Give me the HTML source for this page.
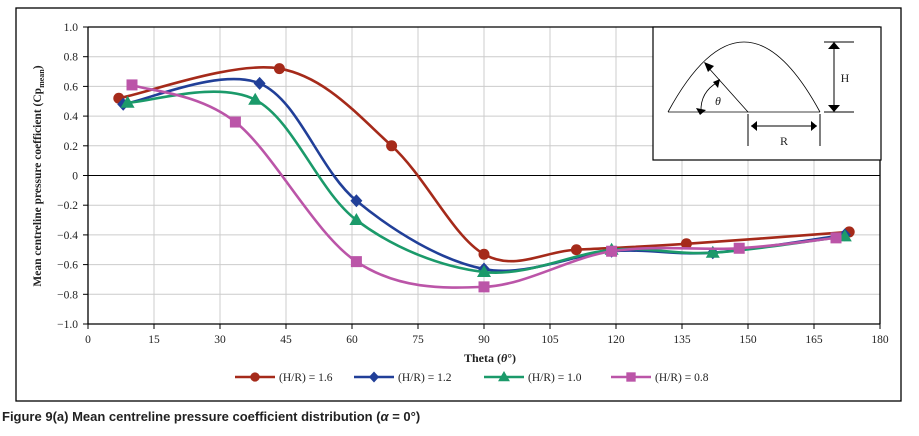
<!DOCTYPE html>
<html><head><meta charset="utf-8"><style>
body{margin:0;background:#fff;width:919px;height:436px;overflow:hidden}
svg{display:block}
text{font-family:"Liberation Serif",serif;fill:#222}
</style></head><body>
<svg id="chart" width="919" height="436">
<rect x="16" y="8" width="885" height="393" fill="none" stroke="#000" stroke-width="1.3"/>
<g id="grid"></g>
<g id="axes"></g>
<g id="series"></g>
<g>
<rect x="653" y="27" width="228" height="133" fill="#fff" stroke="#000" stroke-width="1.2"/>
<path d="M668,112 Q744,-28 820,112" fill="none" stroke="#000" stroke-width="0.8"/>
<line x1="668" y1="112" x2="820" y2="112" stroke="#000" stroke-width="0.8"/>
<line x1="748" y1="112" x2="706" y2="65" stroke="#000" stroke-width="0.8"/>
<polygon points="704,62 714,66 708,72" fill="#000"/>
<path d="M701,112 Q700,92 718,82" fill="none" stroke="#000" stroke-width="0.8"/>
<polygon points="720,79 718,88 713,82" fill="#000"/>
<polygon points="696,108 706,110 700,115" fill="#000"/>
<text x="715" y="105" font-size="12" font-style="italic">θ</text>
<line x1="824" y1="42" x2="854" y2="42" stroke="#000"/>
<line x1="824" y1="112" x2="854" y2="112" stroke="#000"/>
<line x1="834" y1="46" x2="834" y2="108" stroke="#000"/>
<polygon points="828,49 834,42 840,49" fill="#000"/>
<polygon points="828,105 834,112 840,105" fill="#000"/>
<text x="845" y="82" font-size="12" text-anchor="middle">H</text>
<line x1="748" y1="114" x2="748" y2="146" stroke="#000"/>
<line x1="820" y1="114" x2="820" y2="146" stroke="#000"/>
<line x1="751" y1="126" x2="817" y2="126" stroke="#000"/>
<polygon points="751,126 757,121 757,131" fill="#000"/>
<polygon points="817,126 811,121 811,131" fill="#000"/>
<text x="784" y="145" font-size="12" text-anchor="middle">R</text>
</g>
<text x="-176" y="41" transform="rotate(-90)" font-size="11.5" font-weight="bold" text-anchor="middle">Mean centreline pressure coefficient (Cp<tspan font-size="8" dy="3">mean</tspan><tspan dy="-3">)</tspan></text>
<text x="490" y="362" font-size="12" font-weight="bold" text-anchor="middle">Theta (<tspan font-style="italic">θ</tspan>°)</text>
<g id="legend"></g>
<text x="2" y="421" font-size="13" font-weight="bold" style="font-family:'Liberation Sans Narrow','Liberation Sans',sans-serif">Figure 9(a) Mean centreline pressure coefficient distribution (<tspan font-style="italic">α</tspan> = 0°)</text>
</svg>
<script>
const xTicks=[0,15,30,45,60,75,90,105,120,135,150,165,180];
const yTicks=[1.0,0.8,0.6,0.4,0.2,0,-0.2,-0.4,-0.6,-0.8,-1.0];
const seriesNames=["(H/R) = 1.6","(H/R) = 1.2","(H/R) = 1.0","(H/R) = 0.8"];
const theta16=[7,43.5,69,90,111,136,173];
const cp16=[0.52,0.72,0.20,-0.53,-0.50,-0.46,-0.38];
const theta12=[8,39,61,90,119,142,172];
const cp12=[0.48,0.62,-0.17,-0.63,-0.51,-0.52,-0.40];
const theta10=[9,38,61,90,119,142,172];
const cp10=[0.49,0.51,-0.30,-0.65,-0.50,-0.52,-0.41];
const theta08=[10,33.5,61,90,119,148,170];
const cp08=[0.61,0.36,-0.58,-0.75,-0.51,-0.49,-0.42];

const NS="http://www.w3.org/2000/svg";
const X=v=>88+v/180*792, Y=v=>175.5-v*148.5;
function mk(tag,attrs,parent){const e=document.createElementNS(NS,tag);for(const k in attrs)e.setAttribute(k,attrs[k]);parent.appendChild(e);return e;}
const grid=document.getElementById('grid'),axes=document.getElementById('axes'),ser=document.getElementById('series'),leg=document.getElementById('legend');
xTicks.forEach(t=>{
 if(t>0){const l=mk('line',{x1:X(t),x2:X(t),y1:Y(1),y2:Y(-1),stroke:'#ccc','stroke-width':1},grid);
 
 }
 mk('line',{x1:X(t),x2:X(t),y1:Y(-1),y2:Y(-1)+5,stroke:'#000'},axes);
 const tx=mk('text',{x:X(t),y:343,'font-size':11.5,'text-anchor':'middle'},axes);tx.textContent=t;
 
 
});
yTicks.forEach(t=>{
 if(t!==-1){const l=mk('line',{x1:X(0),x2:X(180),y1:Y(t),y2:Y(t),stroke:t===0?'#000':'#ccc','stroke-width':1},grid);
 
 }
 mk('line',{x1:X(0)-5,x2:X(0),y1:Y(t),y2:Y(t),stroke:'#000'},axes);
 const tx=mk('text',{x:X(0)-10,y:Y(t)+4,'font-size':11.5,'text-anchor':'end'},axes);
 tx.textContent=t===0?'0':(t<0?'\u2212':'')+Math.abs(t).toFixed(1);
 
 
});
mk('line',{x1:X(0),x2:X(0),y1:Y(1),y2:Y(-1),stroke:'#000','stroke-width':1.3},axes);
mk('line',{x1:X(0),x2:X(180),y1:Y(-1),y2:Y(-1),stroke:'#000','stroke-width':1.3},axes);
mk('line',{x1:X(0),x2:X(180),y1:Y(1),y2:Y(1),stroke:'#000','stroke-width':1.3},axes);
mk('line',{x1:X(180),x2:X(180),y1:Y(1),y2:Y(-1),stroke:'#000','stroke-width':1.3},axes);

function smooth(xs,ys){const p=xs.map((x,i)=>[X(x),Y(ys[i])]);let d='M'+p[0].join(',');
 for(let i=0;i<p.length-1;i++){const p0=p[i-1]||p[i],p1=p[i],p2=p[i+1],p3=p[i+2]||p2;
 const c1=[p1[0]+(p2[0]-p0[0])/6,p1[1]+(p2[1]-p0[1])/6],c2=[p2[0]-(p3[0]-p1[0])/6,p2[1]-(p3[1]-p1[1])/6];
 d+=' C'+c1.join(',')+' '+c2.join(',')+' '+p2.join(',');}return d;}
function marker(type,x,y,c,parent){
 if(type==='circle')return mk('circle',{cx:x,cy:y,r:5.5,fill:c},parent);
 if(type==='diamond')return mk('polygon',{points:`${x},${y-6.5} ${x+6},${y} ${x},${y+6.5} ${x-6},${y}`,fill:c},parent);
 if(type==='triangle')return mk('polygon',{points:`${x},${y-7} ${x+7},${y+5} ${x-7},${y+5}`,fill:c},parent);
 return mk('rect',{x:x-5.5,y:y-5.5,width:11,height:11,fill:c},parent);}
const defs=[[theta16,cp16,'#a52a1a','circle','series-hr-1-6'],[theta12,cp12,'#213f98','diamond','series-hr-1-2'],[theta10,cp10,'#1b9a6a','triangle','series-hr-1-0'],[theta08,cp08,'#bb55a8','square','series-hr-0-8']];
defs.forEach(([xs,ys,c,m,name],si)=>{
 const g=mk('g',{},ser);
 
 
 const p=mk('path',{d:smooth(xs,ys),fill:'none',stroke:c,'stroke-width':2.6},g);
 
 
 xs.forEach((x,i)=>{const mm=marker(m,X(x),Y(ys[i]),c,g);
 
 });
 const lx=[235,354,484,611][si];
 const lg=mk('g',{},leg);
 
 
 mk('line',{x1:lx,x2:lx+40,y1:377,y2:377,stroke:c,'stroke-width':2.6},lg);
 marker(m,lx+20,377,c,lg).setAttribute('transform',`translate(${lx+20},377) scale(0.85) translate(${-(lx+20)},-377)`);
 const t=mk('text',{x:lx+44,y:381,'font-size':11.5},lg);t.textContent=seriesNames[si];
});
</script>
</body></html>
